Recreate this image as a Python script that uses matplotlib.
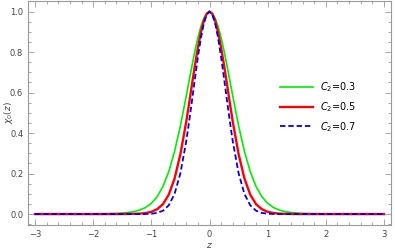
import numpy as np
import matplotlib
matplotlib.use("Agg")
import matplotlib.pyplot as plt
from matplotlib.ticker import MultipleLocator

z = [-3.0, -2.5, -2.0, -1.8, -1.6, -1.5, -1.4, -1.3, -1.2, -1.1, -1.0, -0.9, -0.8,
     -0.7, -0.6, -0.5, -0.4, -0.35, -0.3, -0.25, -0.2, -0.15, -0.1, -0.05, 0.0,
     0.05, 0.1, 0.15, 0.2, 0.25, 0.3, 0.35, 0.4, 0.5, 0.6,
     0.7, 0.8, 0.9, 1.0, 1.1, 1.2, 1.3, 1.4, 1.5, 1.6, 1.8, 2.0, 2.5, 3.0]

# C2 = 0.3
chi_03 = [0.0, 0.0002, 0.0007, 0.0015, 0.003, 0.005, 0.008, 0.012, 0.020, 0.032,
          0.053, 0.086, 0.136, 0.210, 0.310, 0.436, 0.582, 0.659, 0.734, 0.806,
          0.870, 0.924, 0.965, 0.991, 1.0,
          0.991, 0.965, 0.924, 0.870, 0.806, 0.734, 0.659, 0.582, 0.436, 0.310,
          0.210, 0.136, 0.086, 0.053, 0.032, 0.020, 0.012, 0.008, 0.005, 0.003,
          0.0015, 0.0007, 0.0002, 0.0]
# C2 = 0.5
chi_05 = [0.0, 0.0, 0.0, 0.0, 0.0001, 0.0003, 0.0006, 0.0012, 0.002, 0.005,
          0.011, 0.024, 0.049, 0.096, 0.176, 0.296, 0.456, 0.547, 0.643, 0.735,
          0.820, 0.895, 0.952, 0.988, 1.0,
          0.988, 0.952, 0.895, 0.820, 0.735, 0.643, 0.547, 0.456, 0.296, 0.176,
          0.096, 0.049, 0.024, 0.011, 0.005, 0.002, 0.0012, 0.0006, 0.0003, 0.0001,
          0.0, 0.0, 0.0, 0.0]
# C2 = 0.7
chi_07 = [0.0, 0.0, 0.0, 0.0, 0.0, 0.0, 0.0, 0.0, 0.0001, 0.0004,
          0.0017, 0.0056, 0.0166, 0.0434, 0.100, 0.202, 0.359, 0.457, 0.562, 0.670,
          0.774, 0.866, 0.938, 0.984, 1.0,
          0.984, 0.938, 0.866, 0.774, 0.670, 0.562, 0.457, 0.359, 0.202, 0.100,
          0.0434, 0.0166, 0.0056, 0.0017, 0.0004, 0.0001, 0.0, 0.0, 0.0, 0.0,
          0.0, 0.0, 0.0, 0.0]

labels = [r"$C_2$=0.3", r"$C_2$=0.5", r"$C_2$=0.7"]

fig = plt.figure(figsize=(3.95, 2.49), dpi=100)
ax = fig.add_axes([28/395, 1 - 225/249, (391 - 28)/395, (225 - 1)/249])

ax.plot(z, chi_03, color="#00ee00", lw=1.2, label=labels[0])
ax.plot(z, chi_05, color="#ff0000", lw=1.7, label=labels[1])
ax.plot(z, chi_07, color="#0000ee", lw=1.3, ls=(0, (3, 1.6)), label=labels[2])

ax.set_xlim(-3.12, 3.12)
ax.set_ylim(-0.054, 1.052)

frame_col = "#9a9a9a"
for s in ax.spines.values():
    s.set_color(frame_col)
    s.set_linewidth(0.8)

ax.xaxis.set_major_locator(MultipleLocator(1))
ax.xaxis.set_minor_locator(MultipleLocator(0.2))
ax.yaxis.set_major_locator(MultipleLocator(0.2))
ax.yaxis.set_minor_locator(MultipleLocator(0.05))
ax.tick_params(which="both", direction="in", top=True, right=True,
               color=frame_col, width=0.6, labelsize=6, labelcolor="#444444")
ax.tick_params(which="major", length=4, pad=3.5)
ax.tick_params(which="minor", length=2)
ax.set_xticks([-3, -2, -1, 0, 1, 2, 3])
ax.set_xticklabels(["\u22123", "\u22122", "\u22121", "0", "1", "2", "3"])
ax.set_yticks([0.0, 0.2, 0.4, 0.6, 0.8, 1.0])
ax.set_yticklabels(["0.0", "0.2", "0.4", "0.6", "0.8", "1.0"])

ax.set_xlabel(r"$z$", fontsize=6.5, color="#444444")
ax.xaxis.label.set_va("center")
ax.xaxis.set_label_coords(0.5, -0.092)
ax.set_ylabel(r"$\chi_0(z)$", fontsize=6.5, color="#444444")
ax.yaxis.label.set_va("center")
ax.yaxis.set_label_coords(-0.055, 0.5)

ax.legend(loc="center left", bbox_to_anchor=(280/395, 1 - 107/249),
          bbox_transform=fig.transFigure, frameon=False, fontsize=7,
          handlelength=3.4, handletextpad=0.7, labelspacing=0.6,
          borderpad=0, borderaxespad=0)

fig.savefig("out.png", dpi=100)
